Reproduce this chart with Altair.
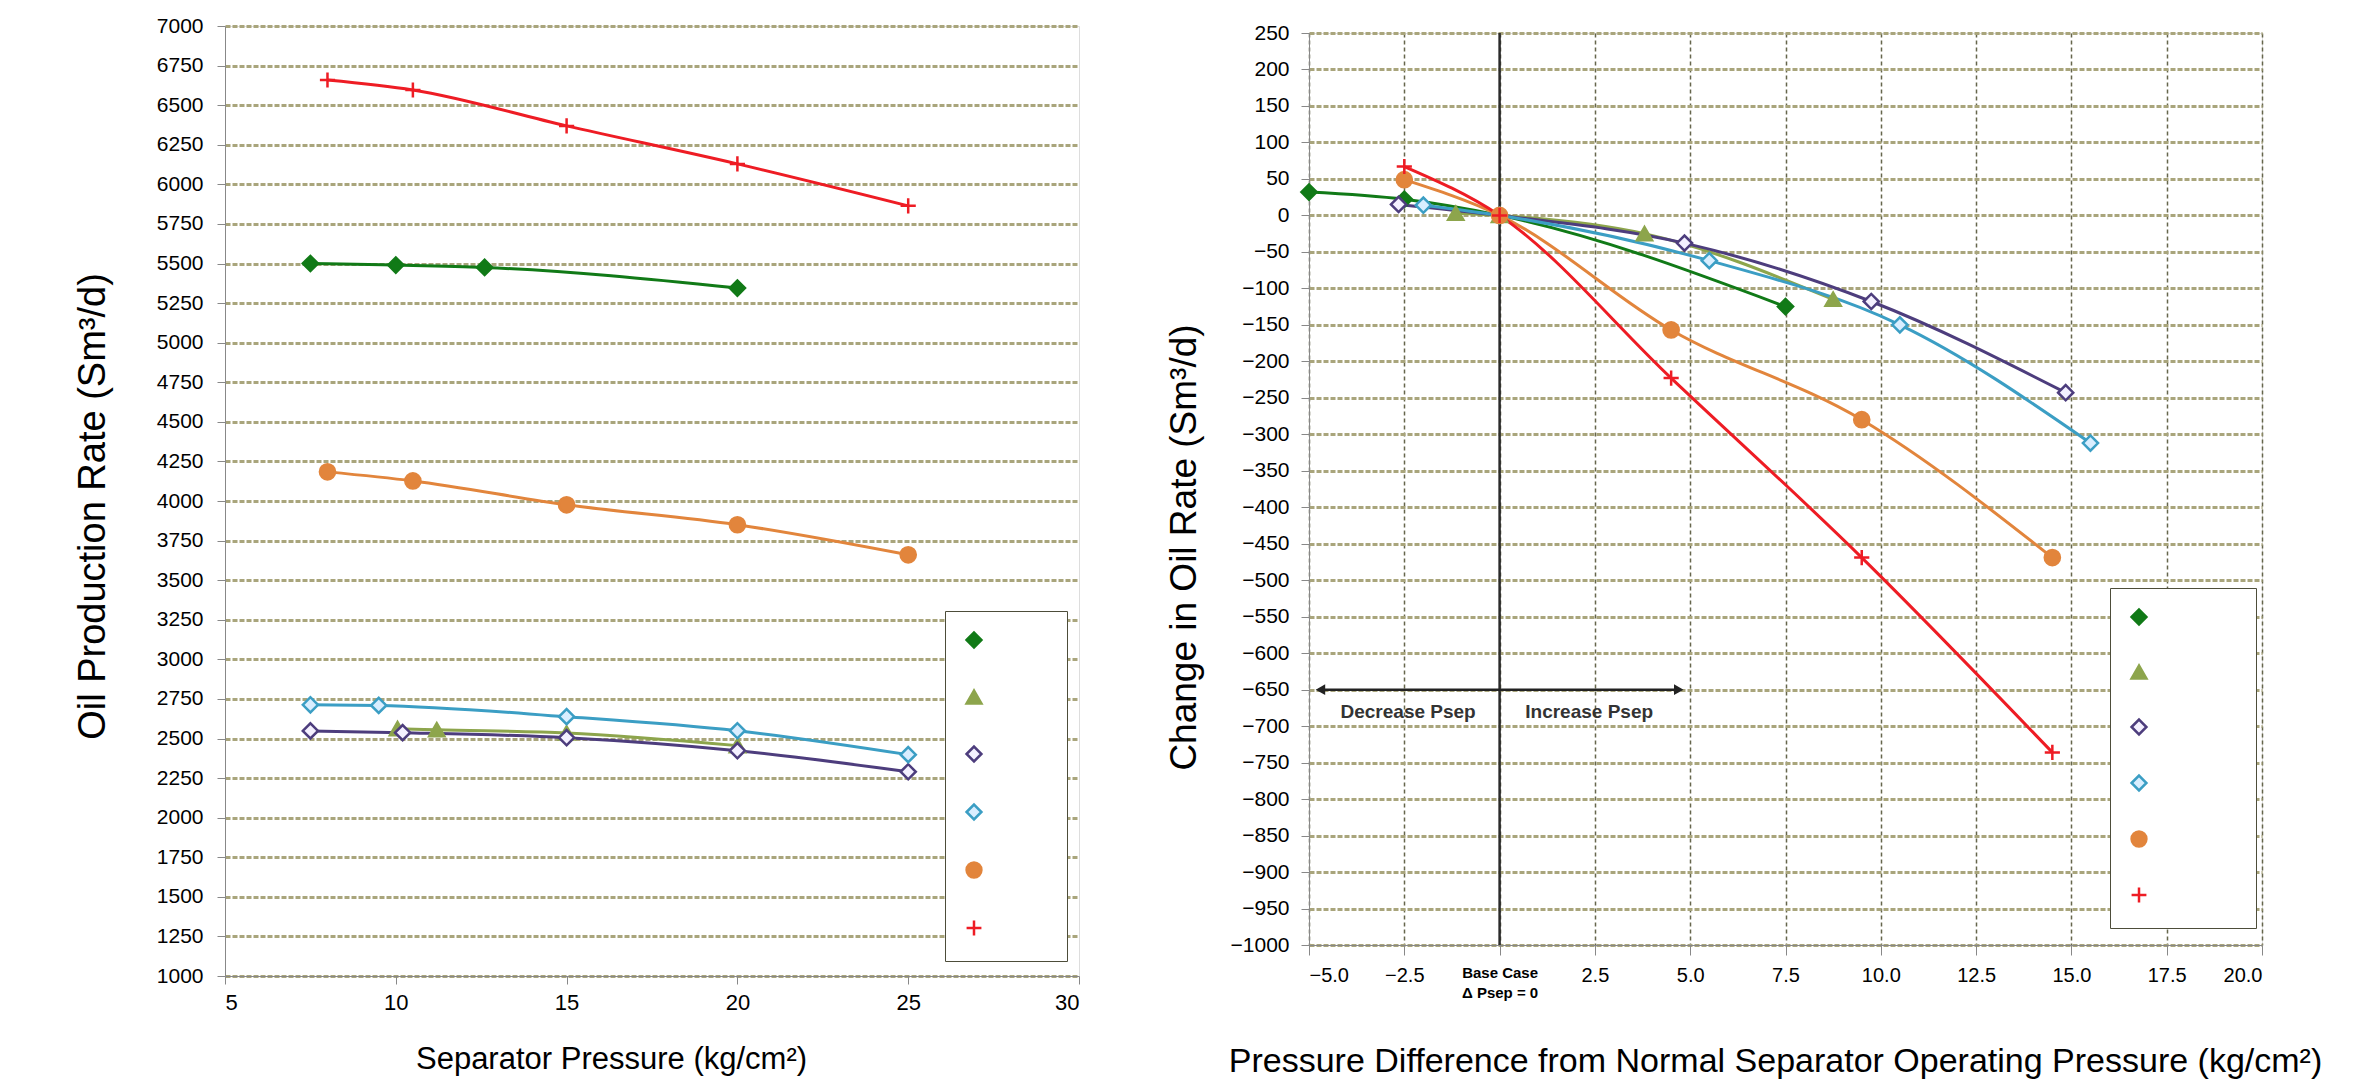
import altair as alt
import pandas as pd

# ---------------- data ----------------
series = ["Case 1", "Case 2", "Case 3", "Case 4", "Case 5", "Case 6"]
stroke_colors = ["#117a17", "#8da54c", "#4d3d7d", "#3b9ec4", "#e2853c", "#ee1c24"]
marker_fill = ["#117a17", "#8da54c", "#f4f0ff", "#d9eeff", "#e2853c", "#ee1c24"]
marker_shapes = ["diamond", "triangle-up", "diamond", "diamond", "circle", "M-1,0L1,0M0,-1L0,1"]

# Left chart: separator pressure (kg/cm2) vs oil rate (Sm3/d)
left_x = [
    [7.5, 10.0, 12.6, 20.0],
    [10.05, 11.2, 15.0, 20.0],
    [7.5, 10.2, 15.0, 20.0, 25.0],
    [7.5, 9.5, 15.0, 20.0, 25.0],
    [8.0, 10.5, 15.0, 20.0, 25.0],
    [8.0, 10.5, 15.0, 20.0, 25.0],
]
left_y = [
    [5500, 5490, 5475, 5345],
    [2562, 2555, 2535, 2455],
    [2548, 2537, 2505, 2423, 2290],
    [2713, 2709, 2638, 2549, 2398],
    [4184, 4127, 3976, 3850, 3660],
    [6659, 6596, 6369, 6129, 5864],
]

# Right chart: pressure difference vs change in oil rate
right_x = [
    [-5.0, -2.5, 0.0, 7.5],
    [-1.15, 0.0, 3.8, 8.75],
    [-2.65, 0.0, 4.85, 9.75, 14.85],
    [-2.0, 0.0, 5.5, 10.5, 15.5],
    [-2.5, 0.0, 4.5, 9.5, 14.5],
    [-2.5, 0.0, 4.5, 9.5, 14.5],
]
right_y = [
    [32, 22, 0, -125],
    [3, 0, -25, -115],
    [15, 0, -38, -118, -243],
    [14, 0, -62, -150, -312],
    [49, 0, -157, -280, -469],
    [67, 0, -223, -469, -736],
]

left_x_ticks = [5, 10, 15, 20, 25, 30]
left_y_ticks = list(range(1000, 7001, 250))
right_x_ticks = [-5.0, -2.5, 0.0, 2.5, 5.0, 7.5, 10.0, 12.5, 15.0, 17.5, 20.0]
right_y_ticks = list(range(-1000, 251, 50))

arrow_x = [-4.7]
arrow_x2 = [4.7]
arrow_y = [-650]
note_text = ["Decrease Psep", "Increase Psep"]
note_x = [-2.4, 2.35]
note_y = [-680, -680]
zero_x = [0.0]


def make_frame(xs, ys):
    rows = []
    for name, xl, yl in zip(series, xs, ys):
        for a, b in zip(xl, yl):
            rows.append({"series": name, "x": a, "y": b})
    return pd.DataFrame(rows)


left_df = make_frame(left_x, left_y)
right_df = make_frame(right_x, right_y)

FONT = "Liberation Sans"
TXT = "#404040"
GRID_H = dict(gridColor="#a9a57c", gridWidth=3, gridDash=[5, 2], gridOpacity=1)
BLANK = "\u2800"


def series_layers(df, X, Y, legend):
    sc_stroke = alt.Scale(domain=series, range=stroke_colors)
    base = alt.Chart(df)
    lines = base.mark_line(strokeWidth=3, interpolate="monotone").encode(
        x=X, y=Y,
        stroke=alt.Stroke("series:N", scale=sc_stroke, legend=legend),
    )
    pts = base.mark_point(filled=True, opacity=1, strokeWidth=2.5, size=230).encode(
        x=X, y=Y,
        stroke=alt.Stroke("series:N", scale=sc_stroke, legend=legend),
        fill=alt.Fill("series:N", scale=alt.Scale(domain=series, range=marker_fill), legend=legend),
        shape=alt.Shape("series:N", scale=alt.Scale(domain=series, range=marker_shapes), legend=legend),
    )
    return lines, pts


# ---------------- left chart ----------------
LX = alt.X(
    "x:Q",
    scale=alt.Scale(domain=[5, 30], nice=False, zero=False),
    axis=alt.Axis(
        values=left_x_ticks, grid=False, title="Separator Pressure (kg/cm²)",
        titleFontSize=31, titleFontWeight="normal", titleX=386, titleY=83,
        titleAlign="center", titleBaseline="middle",
        labelFontSize=22, labelPadding=8, tickSize=8,
    ),
)
LY = alt.Y(
    "y:Q",
    scale=alt.Scale(domain=[1000, 7000], nice=False, zero=False),
    axis=alt.Axis(
        values=left_y_ticks, format="d", grid=True, **GRID_H,
        title="Oil Production Rate  (Sm³/d)", titleFontWeight="normal",
        titleFontSize=38, titleX=-132, titleY=480, titleAngle=270,
        titleAlign="center", titleBaseline="middle",
        labelFontSize=21, labelPadding=14, tickSize=8,
    ),
)
left_legend = alt.Legend(
    title=None, orient="none", legendX=720, legendY=585, padding=20, rowPadding=32,
    fillColor="white", strokeColor="#4d4d3a", symbolSize=220, symbolStrokeWidth=2.5,
    labelExpr="'" + BLANK * 5 + "'", labelFontSize=16,
)
l_lines, l_pts = series_layers(left_df, LX, LY, left_legend)
left = alt.layer(l_lines, l_pts).properties(width=854, height=950)

# ---------------- right chart ----------------
RX = alt.X(
    "x:Q",
    scale=alt.Scale(domain=[-5, 20], nice=False, zero=False),
    axis=alt.Axis(
        values=right_x_ticks, grid=True, gridColor="#66664c", gridWidth=1.5, gridDash=[4, 3],
        labelExpr="datum.value == 0 ? ['Base Case', 'Δ Psep = 0'] : format(datum.value, '.1f')",
        labelFontSize={"condition": {"test": "datum.value == 0", "value": 15}, "value": 20},
        labelFontWeight={"condition": {"test": "datum.value == 0", "value": "bold"}, "value": "normal"},
        labelPadding=10, tickSize=10, labelLineHeight=20,
        title="Pressure Difference from Normal Separator Operating Pressure (kg/cm²)",
        titleFontSize=34, titleFontWeight="normal", titleX=466, titleY=116,
        titleAlign="center", titleBaseline="middle",
    ),
)
RY = alt.Y(
    "y:Q",
    scale=alt.Scale(domain=[-1000, 250], nice=False, zero=False),
    axis=alt.Axis(
        values=right_y_ticks, format="d", grid=True, **GRID_H,
        title="Change in Oil Rate  (Sm³/d)", titleFontWeight="normal",
        titleFontSize=37, titleX=-125, titleY=514, titleAngle=270,
        titleAlign="center", titleBaseline="middle",
        labelFontSize=21, labelPadding=12, tickSize=8,
    ),
)
right_legend = alt.Legend(
    title=None, orient="none", legendX=801, legendY=562, padding=20, rowPadding=30,
    fillColor="white", strokeColor="#4d4d3a", symbolSize=220, symbolStrokeWidth=2.5,
    labelExpr="'" + BLANK * 7 + "'", labelFontSize=16,
)
r_lines, r_pts = series_layers(right_df, RX, RY, right_legend)

zero_rule = alt.Chart(pd.DataFrame({"x": zero_x})).mark_rule(color="#2b2b2b", strokeWidth=2.5).encode(x=RX)
arrow_df = pd.DataFrame({"x": arrow_x, "x2": arrow_x2, "y": arrow_y})
arrow = alt.Chart(arrow_df).mark_rule(color="#222222", strokeWidth=2.5).encode(x=RX, x2="x2:Q", y=RY)
head_l = alt.Chart(pd.DataFrame({"x": arrow_x, "y": arrow_y})).mark_point(
    shape="triangle-left", filled=True, color="#222222", size=120, opacity=1).encode(x=RX, y=RY)
head_r = alt.Chart(pd.DataFrame({"x": arrow_x2, "y": arrow_y})).mark_point(
    shape="triangle-right", filled=True, color="#222222", size=120, opacity=1).encode(x=RX, y=RY)
notes = alt.Chart(pd.DataFrame({"x": note_x, "y": note_y, "t": note_text})).mark_text(
    font=FONT, fontSize=19, fontWeight="bold", color="#333333").encode(x=RX, y=RY, text="t:N")

right = alt.layer(zero_rule, r_lines, r_pts, arrow, head_l, head_r, notes).properties(
    width=953, height=912,
)

spacer = alt.Chart(pd.DataFrame({"a": [0]})).mark_point(opacity=0).encode(
    x=alt.value(0), y=alt.value(0)
).properties(width=953, height=1, view=alt.ViewBackground(fill="transparent", stroke="transparent"))

right_col = alt.vconcat(spacer, right, spacing=-9)

chart = (
    alt.hconcat(left, right_col, spacing=84)
    .resolve_scale(stroke="independent", fill="independent", shape="independent")
    .resolve_legend(stroke="independent", fill="independent", shape="independent")
    .configure_view(fill="#fefec8", stroke="#aaa78a", strokeWidth=3)
    .configure_axis(
        labelFont=FONT, titleFont=FONT, labelColor=TXT, titleColor=TXT,
        titleFontWeight="normal", tickColor="#8a8a70", tickWidth=2,
        domainColor="#aaa78a", domainWidth=3,
    )
    .configure_legend(strokeWidth=3, labelFont=FONT)
    .configure(font=FONT)
    .properties(padding={"left": 73, "top": 14, "right": 0, "bottom": 0}, background="white")
)

chart.save("out.html", embed_options={"renderer": "svg", "actions": False})
